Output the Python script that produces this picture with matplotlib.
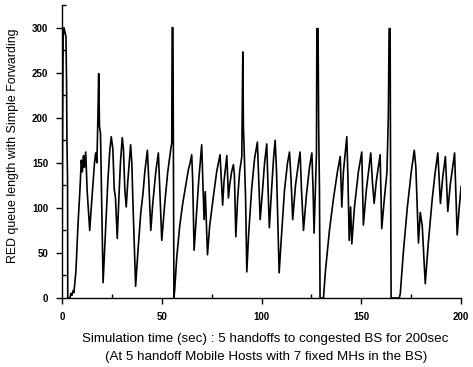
import matplotlib
matplotlib.use("Agg")
import matplotlib.pyplot as plt
from matplotlib.ticker import MultipleLocator

plt.rcParams['font.family'] = ['Liberation Sans', 'DejaVu Sans']

time_s = [0, 0.3, 0.6, 1.0, 1.5, 2.0, 2.3, 2.5, 2.8, 2.9, 4.0, 4.5, 5.0, 5.5, 6.0, 7.0, 8.0, 9.0, 9.7,
          10.2, 10.8, 11.2, 11.9, 12.6, 13.9, 14.5, 15.5, 16.3, 16.9, 17.5, 18.0, 18.4, 18.8, 19.3, 19.8,
          20.6, 21.5, 23.0, 24.0, 24.7, 25.5, 26.2, 26.8, 27.7, 28.5, 29.3, 30.2, 30.8, 31.5, 32.2, 33.0,
          34.4, 35.0, 35.5, 36.9, 38.0, 39.5, 40.6, 41.5, 42.8, 43.5, 44.5, 45.5, 47.0, 48.3, 49.0, 50.0,
          51.5, 53.0, 54.5, 55.0, 55.2, 55.6, 55.8, 56.1,
          56.5, 57.5, 59.0, 60.5, 62.0, 63.3, 64.2, 65.0, 65.5, 66.2, 67.0, 68.5, 70.0, 70.6, 71.2, 71.8,
          72.9, 74.0, 76.0, 77.5, 79.2, 80.5, 81.2, 82.6, 83.4, 84.0, 85.0, 85.9, 86.4, 87.1, 88.0, 89.0,
          90.1, 90.6, 90.9, 91.2, 92.0, 92.6, 93.5, 95.0, 96.5, 97.9, 98.6, 99.3, 100.5, 101.5, 102.6,
          103.2, 103.9, 105.0, 106.0, 106.8, 107.5, 108.8, 110.0, 111.5, 113.0, 114.0, 114.8, 115.6, 117.0,
          118.5, 119.3, 120.0, 121.0, 122.5, 124.0, 125.2, 125.8, 126.3, 127.0, 127.5, 127.7, 128.3, 128.6,
          129.0, 129.3, 131.0, 132.0, 134.0, 136.0, 138.0, 139.4, 140.2, 141.0, 142.7, 143.3, 143.9, 144.6,
          145.2, 146.5, 148.5, 150.2, 151.0, 152.5, 154.7, 155.5, 156.4, 157.5, 159.4, 160.2, 161.5, 162.8,
          163.5, 163.9, 164.4, 164.6, 164.9, 169.0, 169.5, 171.0, 173.0, 175.0, 176.5, 177.3, 178.6, 179.5,
          180.5, 182.0, 183.5, 185.5, 187.0, 188.3, 189.6, 190.8, 192.1, 193.3, 194.5, 196.7, 198.0, 199.0,
          200.0]

queue_len = [0, 180, 290, 300, 295, 290, 240, 175, 130, 0, 0, 5, 3, 8, 6, 30, 80, 120, 153,
             140, 158, 145, 162, 120, 75, 95, 125, 150, 161, 150, 200, 249, 190, 183, 120,
             17, 60, 130, 165, 179, 165, 120, 112, 66, 110, 150, 178, 165, 120, 101, 130,
             170, 150, 110, 13, 50, 95, 116, 140, 164, 130, 75, 105, 140, 161, 120, 64,
             105, 140, 165, 172, 300, 300, 170, 0,
             10, 45, 80, 105, 125, 142, 150, 159, 130, 53, 80, 130, 170, 130, 87, 118,
             48, 80, 115, 140, 159, 103, 130, 158, 111, 125, 140, 148, 136, 68, 110, 140,
             157, 273, 190, 170, 110, 29, 70, 120, 155, 173, 130, 87, 120, 150, 171,
             125, 78, 120, 155, 175, 140, 28, 70, 120, 150, 162, 130, 87, 125,
             150, 162, 120, 75, 115, 145, 161, 120, 72, 125, 160, 299, 299, 190,
             120, 0, 0, 30, 75, 110, 140, 157, 101, 140, 179, 130, 64, 101,
             60, 100, 140, 162, 81, 120, 161, 130, 105, 130, 159, 77, 110, 139,
             200, 299, 299, 160, 0, 0, 5, 50, 100, 140, 164, 145, 61, 95,
             80, 16, 60, 110, 140, 161, 105, 135, 157, 96, 125, 161, 70, 100,
             124]

x_ticks = [0, 50, 100, 150, 200]
y_ticks = [0, 50, 100, 150, 200, 250, 300]

fig = plt.figure(figsize=(4.73, 3.67), dpi=100)
ax = fig.add_axes([0.131, 0.188, 0.844, 0.798])
ax.plot(time_s, queue_len, color='black', lw=1.2)

ax.set_xlim(0, 200)
ax.set_ylim(0, 325)
ax.set_xticks(x_ticks)
ax.set_yticks(y_ticks)
ax.xaxis.set_minor_locator(MultipleLocator(25))
ax.yaxis.set_minor_locator(MultipleLocator(25))
for s in ['top', 'right']:
    ax.spines[s].set_visible(False)
for s in ['left', 'bottom']:
    ax.spines[s].set_linewidth(1.0)
ax.tick_params(which='major', direction='out', length=4, width=1, labelsize=7, pad=6)
ax.tick_params(which='minor', direction='in', length=3, width=1)
for lbl in ax.get_xticklabels() + ax.get_yticklabels():
    lbl.set_fontweight('bold')

ax.set_ylabel('RED queue length with Simple Forwarding', fontsize=8.9)
ax.yaxis.set_label_coords(-0.108, 0.52)

fig.text(0.56, 1 - 339 / 367, 'Simulation time (sec) : 5 handoffs to congested BS for 200sec',
         ha='center', va='center', fontsize=9.6)
fig.text(0.563, 1 - 357 / 367, '(At 5 handoff Mobile Hosts with 7 fixed MHs in the BS)',
         ha='center', va='center', fontsize=9.6)

fig.savefig('out.png', dpi=100)
